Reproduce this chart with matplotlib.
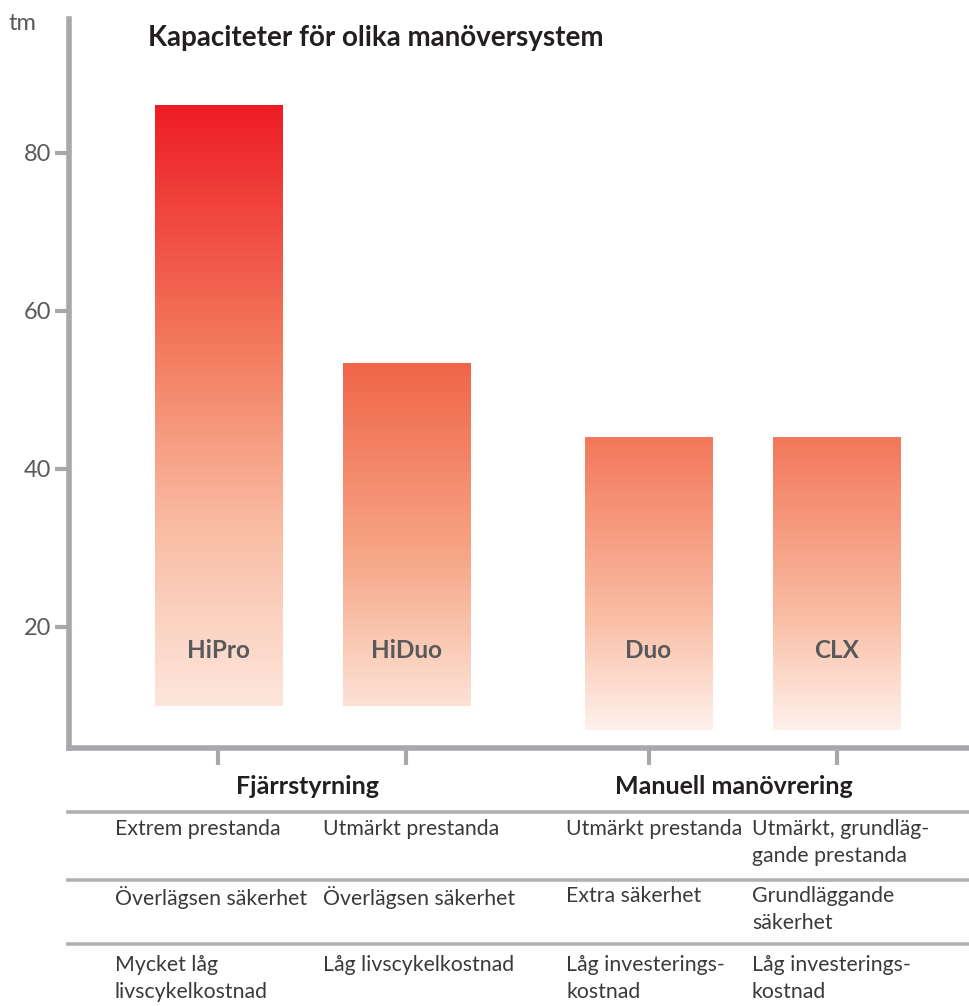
import numpy as np
import matplotlib
matplotlib.use("Agg")
import matplotlib.pyplot as plt
from matplotlib.colors import LinearSegmentedColormap
from matplotlib.lines import Line2D

# ---- data ----
products = ["HiPro", "HiDuo", "Duo", "CLX"]
cap_low = [10, 10, 7, 7]
cap_high = [86, 53.3, 44, 44]
groups = ["Fjärrstyrning", "Manuell manövrering"]
yticks = [20, 40, 60, 80]
row_performance = ["Extrem prestanda", "Utmärkt prestanda", "Utmärkt prestanda",
                   "Utmärkt, grundläg-\ngande prestanda"]
row_safety = ["Överlägsen säkerhet", "Överlägsen säkerhet", "Extra säkerhet",
              "Grundläggande\nsäkerhet"]
row_cost = ["Mycket låg\nlivscykelkostnad", "Låg livscykelkostnad",
            "Låg investerings-\nkostnad", "Låg investerings-\nkostnad"]
title = "Kapaciteter för olika manöversystem"
unit = "tm"

# ---- style ----
plt.rcParams['font.family'] = ['Lato', 'DejaVu Sans']
W, H = 970, 1006
fig = plt.figure(figsize=(W / 100, H / 100), dpi=100)
GREY = "#a7a8ab"
TXT = "#58595b"
DARK = "#231f20"

def fx(px): return px / W
def fy(py): return 1 - py / H

xpos = [0, 1, 2.29, 3.29]
bar_w = 0.676
ax = fig.add_axes([fx(69), fy(748), fx(970) - fx(69), fy(19) - fy(748)])
ax.set_xlim(-0.793, 4.0)
ax.set_ylim(4.68, 96.96)

cmaps = [
    [(0, "#fde6dc"), (0.3, "#f9bca3"), (0.6, "#f37a5c"), (1, "#ee1c25")],
    [(0, "#fce2d5"), (0.45, "#f6a585"), (1, "#f06548")],
    [(0, "#fef1ec"), (0.4, "#f9bca2"), (1, "#f3775a")],
    [(0, "#fef1ec"), (0.4, "#f9bca2"), (1, "#f3775a")],
]
grad = np.linspace(0, 1, 256).reshape(-1, 1)
for i, (x, lo, hi) in enumerate(zip(xpos, cap_low, cap_high)):
    cm = LinearSegmentedColormap.from_list(f"c{i}", cmaps[i])
    ax.imshow(grad, extent=[x - bar_w / 2, x + bar_w / 2, lo, hi], origin="lower",
              cmap=cm, aspect="auto", interpolation="bicubic", zorder=2)
    ax.text(x, 17, products[i], ha="center", va="center", fontsize=17.5,
            fontweight="bold", color=TXT, zorder=3)

for s in ["top", "right"]:
    ax.spines[s].set_visible(False)
for s in ["left", "bottom"]:
    ax.spines[s].set_color(GREY)
    ax.spines[s].set_linewidth(4)
    ax.spines[s].set_capstyle("projecting")

ax.set_yticks(yticks)
ax.set_yticklabels([str(t) for t in yticks])
ax.tick_params(axis="y", length=10, width=3, color=GREY, labelsize=17,
               labelcolor=TXT, pad=3)
ax.set_xticks(xpos)
ax.set_xticklabels([])
ax.tick_params(axis="x", length=12, width=3, color=GREY)

fig.text(fx(9), fy(24), unit, fontsize=17, color=TXT, ha="left", va="center")
fig.text(fx(148), fy(38), title, fontsize=20, fontweight="bold", color=DARK,
         ha="left", va="center")

# group labels
fig.text(fx(308), fy(787), groups[0], fontsize=18, fontweight="bold", color=DARK,
         ha="center", va="center")
fig.text(fx(734), fy(787), groups[1], fontsize=18, fontweight="bold", color=DARK,
         ha="center", va="center")

# table lines
for py in [812, 879.5, 944]:
    fig.add_artist(Line2D([fx(68), fx(970)], [fy(py), fy(py)], color="#b0b1b4",
                          lw=2.6, transform=fig.transFigure))

col_x = [115, 323, 566, 752]
rows = [(row_performance, 830), (row_safety, 897), (row_cost, 966)]
for texts, py in rows:
    for cx, t in zip(col_x, texts):
        fig.text(fx(cx), fy(py - 11), t, fontsize=15.3, color="#3a3a3a",
                 ha="left", va="top", linespacing=1.42)

fig.savefig("out.png", dpi=100)
